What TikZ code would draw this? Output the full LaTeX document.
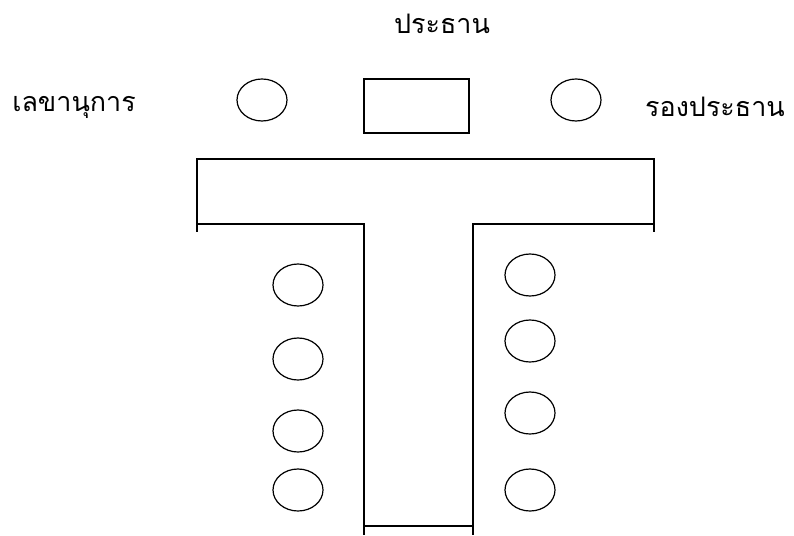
\documentclass[tikz,border=0pt]{standalone}
\usepackage{fontspec}
\usetikzlibrary{shapes.geometric}
\newfontfamily\thaifont[Script=Thai]{Loma}
\begin{document}
\begin{tikzpicture}[x=1bp,y=-1bp,
  seat/.style={draw,ellipse,line width=1.2bp,minimum width=50bp,minimum height=42bp,inner sep=0pt},
  tbl/.style={draw,line width=1.3bp},
  lbl/.style={font=\thaifont\fontsize{27}{32}\selectfont,inner sep=0pt}]
\useasboundingbox (0,0) rectangle (794,536);
% labels
\node[lbl] (chair) at (442,24) {ประธาน};
\node[lbl] (secl) at (74,107) {เลขานุการ};
\node[lbl] (vicel) at (715,107) {รองประธาน};
% head seats
\node[seat] (sec) at (262,100) {};
\node[draw,line width=1.2bp,minimum width=105bp,minimum height=54bp,inner sep=0pt] (chairbox) at (416.5,106) {};
\node[seat] (vice) at (576,100) {};
% table
\coordinate (tl) at (197,159);
\coordinate (tr) at (654,159);
\draw[tbl] (197,232) -- (tl) -- (tr) -- (654,232);
\draw[tbl] (197,224) -- (364,224) -- (364,535);
\draw[tbl] (654,224) -- (473,224) -- (473,535);
\draw[tbl] (364,526) -- (473,526);
% side seats
\node[seat] (l1) at (298,285) {};
\node[seat] (l2) at (298,359) {};
\node[seat] (l3) at (298,431) {};
\node[seat] (l4) at (298,490) {};
\node[seat] (r1) at (530,275) {};
\node[seat] (r2) at (530,341) {};
\node[seat] (r3) at (530,413) {};
\node[seat] (r4) at (530,490) {};
\end{tikzpicture}
\end{document}
